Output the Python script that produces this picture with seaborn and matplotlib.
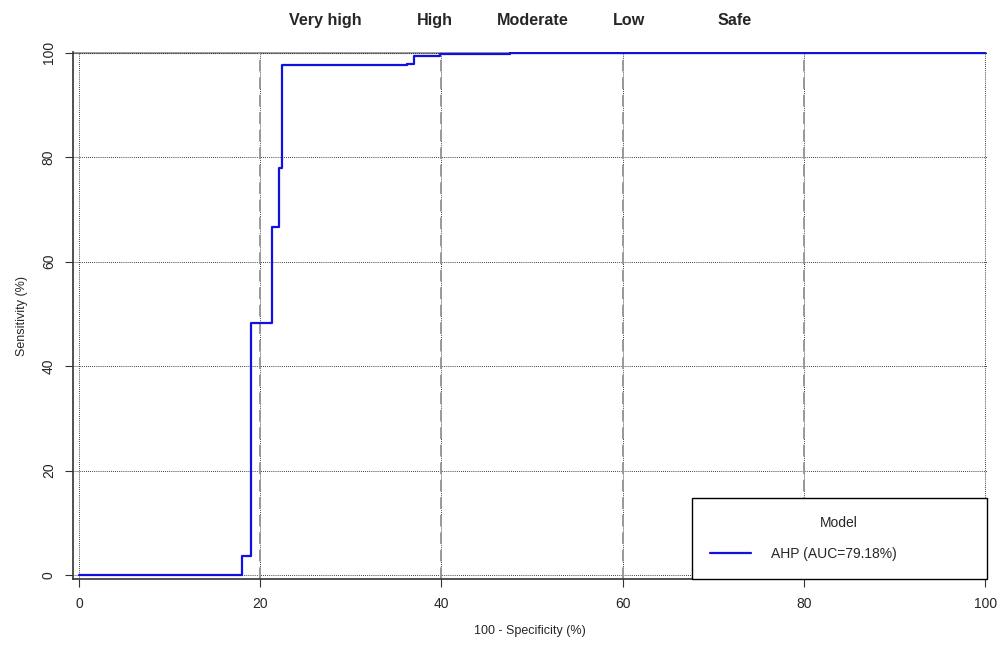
import numpy as np
import pandas as pd
import matplotlib
matplotlib.use("Agg")
import matplotlib.pyplot as plt
import matplotlib.transforms as mtransforms
import seaborn as sns

# ROC curve (100 - specificity vs sensitivity, %)
fpr = [0, 18.0, 19.0, 21.3, 22.1, 22.35, 36.2, 37.0, 39.8, 47.6, 100]
sens = [0, 3.6, 48.2, 66.7, 78.0, 97.7, 97.9, 99.4, 99.8, 100, 100]
model_label = "AHP (AUC=79.18%)"

classes = ["Very high", "High", "Moderate", "Low", "Safe"]
class_pos = [27.2, 39.3, 50.1, 60.7, 72.3]
bounds = [20, 40, 60, 80]
ticks = [0, 20, 40, 60, 80, 100]

sns.set_style("white")
plt.rcParams["font.family"] = ["Liberation Sans", "DejaVu Sans"]

fig = plt.figure(figsize=(9.97, 6.47), dpi=100)
# axes spans x 72.5..987 px, y 52..579 px
ax = fig.add_axes([72.5 / 997, 68 / 647, (987 - 72.5) / 997, (579 - 52) / 647])

df = pd.DataFrame({"fpr": fpr, "sens": sens})

# grid
for t in ticks:
    ax.axhline(t, color="black", lw=0.6, ls=(0, (1, 1.5)), zorder=1)
    ax.axvline(t, color="black", lw=0.6, ls=(0, (1, 1.5)), zorder=1)
ax.axhline(100, color="#a0a0a0", lw=1.6, zorder=0.9)
for b in bounds:
    ax.axvline(b, color="#999999", lw=1.4, ls=(0, (6, 3)), zorder=2)

sns.lineplot(data=df, x="fpr", y="sens", drawstyle="steps-post", color="#1010e0",
             lw=1.6, label=model_label, ax=ax, zorder=3)

ax.set_xlim(-0.72, 100.2)
ax.set_ylim(-0.77, 100.15)
ax.set_xticks(ticks)
ax.set_yticks(ticks)
ax.tick_params(axis="both", length=6, width=0.8, color="#333333", labelsize=10,
               direction="out", bottom=True, left=True)
ax.tick_params(axis="x", pad=7)
for lab in ax.get_yticklabels():
    lab.set_rotation(90)
    lab.set_va("center")
ax.tick_params(axis="y", pad=6)
for s in ["top", "right"]:
    ax.spines[s].set_visible(False)
for s in ["left", "bottom"]:
    ax.spines[s].set_color("#333333")
    ax.spines[s].set_linewidth(1.2)

ax.set_xlabel("100 - Specificity (%)", fontsize=9, labelpad=10)
ax.set_ylabel("Sensitivity (%)", fontsize=9, labelpad=10)

trans = mtransforms.blended_transform_factory(ax.transData, fig.transFigure)
for name, xp in zip(classes, class_pos):
    ax.text(xp, 1 - 25 / 647, name, transform=trans, ha="center", va="baseline",
            fontsize=11.6, fontweight="bold")

leg = ax.legend(loc="lower left", bbox_to_anchor=(0.677, 0.0, 0.323, 0.16),
                mode="expand", borderaxespad=0, title="Model", fancybox=False,
                frameon=True, edgecolor="black", fontsize=10, title_fontsize=10,
                handlelength=3.0, handletextpad=1.4, borderpad=1.3,
                labelspacing=1.25)
leg.get_frame().set_linewidth(1.0)
leg.get_frame().set_alpha(1)
leg.set_zorder(5)
leg._legend_box.align = "center"

fig.savefig("out.png", dpi=100)
